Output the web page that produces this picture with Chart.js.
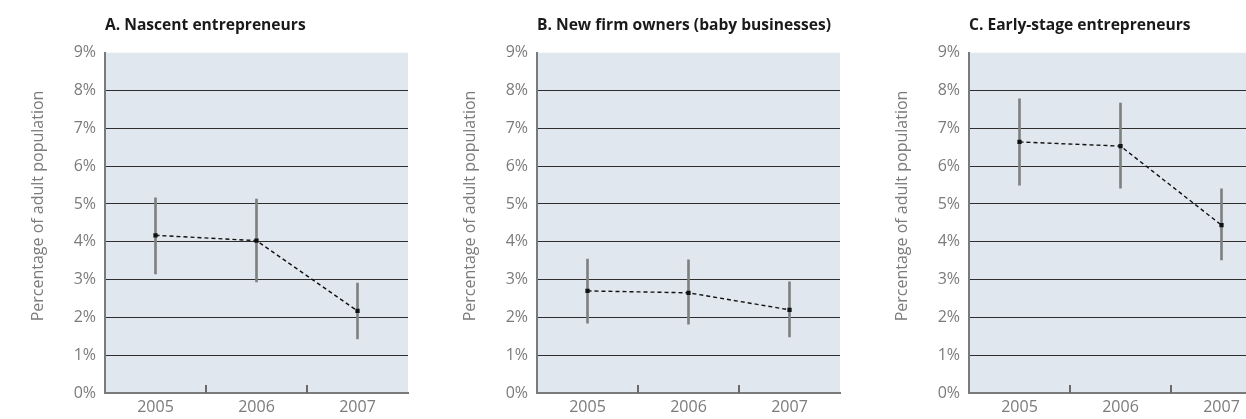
<!DOCTYPE html>
<html>
<head>
<meta charset="UTF-8">
<title>Entrepreneurial activity 2005-2007</title>
<script src="https://cdn.jsdelivr.net/npm/chart.js"></script>
<style>
  body { margin: 0; background: #fff; overflow: hidden; width: 1246px; height: 419px; position: relative; }
  .panel { position: absolute; top: 0; width: 432px; height: 419px; }
</style>
</head>
<body>
<div class="panel" style="left:0px"><canvas id="chartA" width="432" height="419"></canvas></div>
<div class="panel" style="left:432px"><canvas id="chartB" width="432" height="419"></canvas></div>
<div class="panel" style="left:864px"><canvas id="chartC" width="432" height="419"></canvas></div>
<script>
const years = ['2005', '2006', '2007'];

const nascentRate = [4.17, 4.03, 2.17];
const nascentLow = [3.15, 2.94, 1.43];
const nascentHigh = [5.16, 5.13, 2.91];

const babyRate = [2.70, 2.65, 2.20];
const babyLow = [1.85, 1.82, 1.48];
const babyHigh = [3.54, 3.52, 2.94];

const earlyRate = [6.64, 6.53, 4.44];
const earlyLow = [5.50, 5.42, 3.52];
const earlyHigh = [7.78, 7.67, 5.40];

const panelTitles = ['A. Nascent entrepreneurs', 'B. New firm owners (baby businesses)', 'C. Early-stage entrepreneurs'];
const yAxisTitle = 'Percentage of adult population';
const yMin = 0, yMax = 9;

const textGray = '#7b7b7b';

// light blue plot background
const plotBackground = {
    id: 'plotBackground',
    beforeDraw(chart) {
        const { ctx, chartArea: a } = chart;
        ctx.save();
        ctx.fillStyle = '#e0e7ef';
        ctx.fillRect(a.left, a.top, a.right - a.left, a.bottom - a.top);
        ctx.restore();
    }
};

// short marks between years, standing on the x axis
const yearDividers = {
    id: 'yearDividers',
    afterDatasetsDraw(chart) {
        const { ctx, scales: { x }, chartArea: a } = chart;
        ctx.save();
        ctx.strokeStyle = '#6a6a6a';
        ctx.lineWidth = 2;
        for (let i = 0; i < x.ticks.length - 1; i++) {
            const px = Math.round((x.getPixelForTick(i) + x.getPixelForTick(i + 1)) / 2);
            ctx.beginPath();
            ctx.moveTo(px, a.bottom);
            ctx.lineTo(px, a.bottom - 8);
            ctx.stroke();
        }
        ctx.restore();
    }
};

// rotated y axis caption
const sideCaption = {
    id: 'sideCaption',
    afterDraw(chart) {
        const ctx = chart.ctx;
        ctx.save();
        ctx.translate(38, 206);
        ctx.rotate(-Math.PI / 2);
        ctx.font = '16px "Open Sans"';
        ctx.fillStyle = textGray;
        ctx.textAlign = 'center';
        ctx.textBaseline = 'middle';
        ctx.fillText(yAxisTitle, 0, 0);
        ctx.restore();
    }
};

function makePanel(canvasId, title, rate, low, high) {
    const ctx = document.getElementById(canvasId).getContext('2d');
    return new Chart(ctx, {
        data: {
            labels: years,
            datasets: [
                {
                    type: 'line',
                    data: rate,
                    borderColor: '#111',
                    borderWidth: 1.4,
                    borderDash: [4, 3],
                    pointStyle: 'rect',
                    pointRadius: 3,
                    pointBackgroundColor: '#111',
                    pointBorderColor: '#111',
                    pointBorderWidth: 0,
                    tension: 0,
                    order: 0
                },
                {
                    type: 'bar',
                    data: low.map((v, i) => [v, high[i]]),
                    backgroundColor: '#808080',
                    barThickness: 2,
                    order: 1
                }
            ]
        },
        options: {
            responsive: false,
            animation: false,
            devicePixelRatio: 1,
            layout: { padding: { top: 2, right: 24, left: 0, bottom: 0 } },
            plugins: {
                legend: { display: false },
                tooltip: { enabled: false },
                title: {
                    display: true,
                    text: title,
                    align: 'start',
                    fullSize: false,
                    color: '#1a1a1a',
                    font: { family: '"Open Sans"', size: 15.6, weight: 'bold' },
                    padding: { top: 14, bottom: 18 }
                }
            },
            scales: {
                x: {
                    type: 'category',
                    offset: true,
                    grid: { display: false, drawTicks: false },
                    border: { display: true, color: '#7a7a7a', width: 2 },
                    ticks: {
                        color: textGray,
                        padding: 5,
                        font: { family: '"Open Sans"', size: 16 }
                    },
                    afterFit(scale) { scale.height = 26; }
                },
                y: {
                    min: yMin,
                    max: yMax,
                    ticks: {
                        stepSize: 1,
                        color: textGray,
                        padding: 9,
                        font: { family: '"Open Sans"', size: 16 },
                        callback: v => v + '%'
                    },
                    grid: {
                        drawTicks: false,
                        lineWidth: 1,
                        color: c => (c.tick.value === yMin || c.tick.value === yMax) ? 'rgba(0,0,0,0)' : '#2e2e2e'
                    },
                    border: { display: true, color: '#7a7a7a', width: 2 },
                    afterFit(scale) { scale.width = 105; }
                }
            }
        },
        plugins: [plotBackground, yearDividers, sideCaption]
    });
}

makePanel('chartA', panelTitles[0], nascentRate, nascentLow, nascentHigh);
makePanel('chartB', panelTitles[1], babyRate, babyLow, babyHigh);
makePanel('chartC', panelTitles[2], earlyRate, earlyLow, earlyHigh);
</script>
</body>
</html>
